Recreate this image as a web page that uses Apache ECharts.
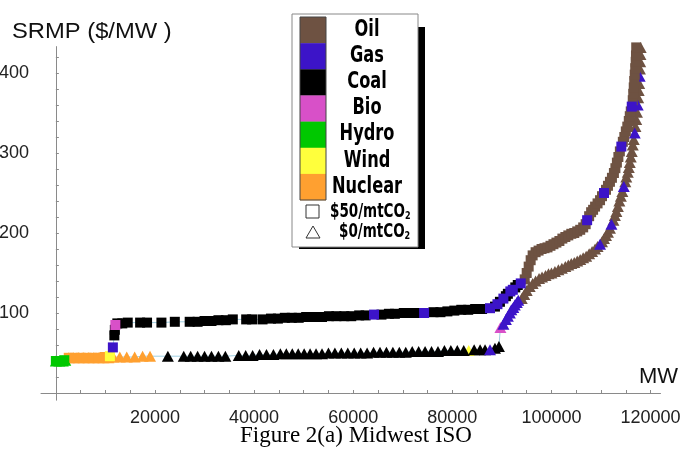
<!DOCTYPE html>
<html>
<head>
<meta charset="utf-8">
<script src="https://cdn.jsdelivr.net/npm/echarts@6/dist/echarts.min.js"></script>
<style>
html, body { margin: 0; padding: 0; background: #fff; }
#chart { width: 683px; height: 453px; }
</style>
</head>
<body>
<div id="chart"></div>
<script>
// Fuel types, in legend order, with their colours
const fuelNames = ['Oil', 'Gas', 'Coal', 'Bio', 'Hydro', 'Wind', 'Nuclear'];
const fuelColors = ['#6e5242', '#3c14c8', '#000000', '#d850c8', '#00c800', '#ffff3c', '#ffa030'];

// Axis ticks and labels
const xTickValues = [0, 5000, 10000, 15000, 20000, 25000, 30000, 35000, 40000, 45000, 50000, 55000, 60000,
  65000, 70000, 75000, 80000, 85000, 90000, 95000, 100000, 105000, 110000, 115000, 120000];
const xLabelValues = [20000, 40000, 60000, 80000, 100000, 120000];
const yTickValues = [0, 20, 40, 60, 80, 100, 120, 140, 160, 180, 200, 220, 240, 260, 280, 300, 320, 340, 360, 380, 400, 420];
const yLabelValues = [100, 200, 300, 400];

// Supply curve with a $50/mtCO2 carbon price: [cumulative MW, SRMP $/MW]
const sqHydro = [[0, 40], [900, 40], [1700, 41]];
const sqNuclear = [[2600, 44], [3800, 44], [5000, 44], [6200, 44], [7400, 44], [8600, 44], [9800, 45]];
const sqWind = [[10900, 46]];
const sqGas = [[11500, 57], [64200, 98], [74300, 100], [87600, 106], [89100, 111], [90300, 118], [91700, 127],
  [92200, 129], [93800, 137], [107200, 216], [110600, 250], [114100, 308], [116200, 358]];
const sqBio = [[12000, 85]];
const sqCoal = [[11800, 72], [11900, 79], [12400, 87], [13400, 87], [14500, 88], [17000, 88], [18400, 88],
  [21300, 88], [24000, 89], [27000, 89], [28600, 89], [30000, 90], [31400, 90], [32800, 91], [34300, 91],
  [35700, 92], [38400, 92], [39600, 92], [41700, 92], [43400, 93], [44800, 93], [46200, 94], [47600, 94],
  [49000, 94], [50500, 95], [52200, 95], [53700, 95], [55100, 96], [56600, 96], [58200, 96], [59600, 96],
  [61200, 97], [62500, 97], [65700, 98], [67200, 99], [68400, 99], [70200, 100], [71600, 100], [73000, 100],
  [76200, 101], [77600, 101], [79000, 102], [80400, 103], [81800, 104], [83200, 104], [84600, 105],
  [86000, 105], [88600, 108], [89600, 114], [90800, 121], [91200, 124], [92700, 132], [93200, 135]];
const sqOil = [[94600, 142], [95000, 150], [95400, 158], [95800, 166], [96200, 172], [96800, 176], [97400, 178],
  [98000, 180], [98600, 181], [99200, 182], [99800, 184], [100400, 186], [101000, 188], [101600, 190],
  [102200, 193], [102800, 195], [103400, 197], [104000, 199], [104600, 200], [105200, 202], [105800, 204],
  [106400, 207], [106900, 211], [107600, 221], [108000, 226], [108400, 229], [108800, 233], [109300, 237],
  [109800, 241], [110200, 246], [111000, 254], [111400, 259], [111800, 264], [112200, 269], [112600, 275],
  [112900, 281], [113200, 288], [113500, 295], [113800, 302], [114400, 314], [114700, 320], [115000, 327],
  [115300, 333], [115600, 340], [115800, 346], [116000, 352], [116400, 366], [116500, 374], [116600, 382],
  [116700, 390], [116800, 398], [116900, 406], [117000, 414], [117050, 422], [117100, 432]];

// Supply curve without a carbon price: [cumulative MW, SRMP $/MW]
const trHydro = [[0, 40], [700, 40], [1400, 40], [1900, 41]];
const trNuclear = [[2600, 44], [3600, 44], [4600, 44], [5600, 44], [6600, 44], [7600, 44], [8600, 44], [9600, 44],
  [10600, 44], [11600, 45], [12900, 45], [14300, 45], [15900, 45], [17500, 46], [19000, 46]];
const trWind = [[83300, 53]];
const trCoal = [[22600, 46], [25800, 46], [27200, 46], [28600, 46], [30000, 46], [31400, 46], [32800, 46],
  [34200, 46], [36900, 47], [38300, 47], [39700, 47], [41100, 48], [42500, 48], [43900, 48], [45300, 49],
  [46500, 49], [47700, 49], [48900, 49], [50100, 49], [51300, 49], [52500, 49], [53700, 49], [55000, 50],
  [56300, 50], [57600, 50], [58900, 50], [60200, 50], [61500, 50], [62800, 50], [64100, 51], [65400, 51],
  [66700, 51], [68000, 51], [69300, 51], [70600, 51], [71900, 52], [73200, 52], [74500, 52], [75800, 52],
  [77100, 52], [78400, 53], [79700, 53], [81000, 53], [82300, 53], [84400, 54], [85600, 54], [86600, 54],
  [88600, 56], [89400, 58]];
const trGas = [[87600, 54], [90300, 86], [90800, 92], [91200, 96], [91600, 100], [91900, 104], [92300, 107],
  [92600, 110], [93000, 113], [93300, 116], [109800, 186], [112100, 211], [114600, 258], [116800, 325],
  [117400, 360], [117800, 396]];
const trBio = [[89700, 82]];
const trOil = [[94000, 118], [94500, 123], [95000, 128], [95600, 133], [96200, 137], [96800, 140], [97500, 143],
  [98100, 145], [98800, 147], [99400, 149], [100000, 150], [100700, 152], [101400, 154], [102100, 156],
  [102800, 158], [103400, 160], [104000, 162], [104600, 163], [105200, 165], [105800, 167], [106400, 169],
  [107000, 171], [107600, 174], [108200, 177], [108800, 180], [109300, 183], [110200, 189], [110600, 193],
  [111000, 197], [111400, 201], [111800, 206], [112500, 216], [112800, 222], [113100, 227], [113400, 233],
  [113700, 240], [114000, 246], [114300, 252], [114900, 264], [115100, 270], [115400, 276], [115600, 282],
  [115800, 288], [116000, 295], [116200, 302], [116400, 310], [116600, 317], [116950, 333], [117100, 342],
  [117250, 351], [117500, 369], [117600, 378], [117700, 387], [117850, 405], [117900, 414], [117950, 423],
  [118000, 432]];

const carbonGroups = {
  Oil: sqOil, Gas: sqGas, Coal: sqCoal, Bio: sqBio, Hydro: sqHydro, Wind: sqWind, Nuclear: sqNuclear
};
const noCarbonGroups = {
  Oil: trOil, Gas: trGas, Coal: trCoal, Bio: trBio, Hydro: trHydro, Wind: trWind, Nuclear: trNuclear
};

// Drawing order within each curve (later ones sit on top)
const drawOrder = ['Nuclear', 'Hydro', 'Wind', 'Coal', 'Bio', 'Oil', 'Gas'];

function colorOf(name) { return fuelColors[fuelNames.indexOf(name)]; }

function curveLine(groups, z) {
  const pts = [];
  Object.keys(groups).forEach(k => groups[k].forEach(p => pts.push(p)));
  pts.sort((a, b) => a[0] - b[0]);
  return {
    type: 'line', data: pts, showSymbol: false, symbol: 'none', silent: true, z: z,
    lineStyle: { color: '#9fcfe2', width: 1 }
  };
}

function markerSeries(groups, symbol, size, z) {
  return drawOrder.map(name => ({
    type: 'scatter', name: name, data: groups[name], symbol: symbol, symbolSize: size,
    itemStyle: { color: colorOf(name), opacity: 1 }, silent: true, z: z
  }));
}

const series = [].concat(
  [curveLine(noCarbonGroups, 1)],
  markerSeries(noCarbonGroups, 'triangle', [12, 11], 2),
  [curveLine(carbonGroups, 3)],
  markerSeries(carbonGroups, 'rect', 10, 4)
);

// Legend box, drawn as graphics
const legendFont = "'DejaVu Sans Condensed', 'Liberation Sans Narrow', sans-serif";
const legend = [
  { type: 'rect', shape: { x: 299, y: 27, width: 126, height: 222 }, style: { fill: '#000' }, z: 10 },
  { type: 'rect', shape: { x: 292, y: 14, width: 126, height: 233 }, style: { fill: '#fff', stroke: '#888', lineWidth: 1 }, z: 11 }
];
fuelNames.forEach((name, i) => {
  legend.push({ type: 'rect', shape: { x: 300, y: 17 + i * 26.15, width: 26, height: 26.4 },
    style: { fill: fuelColors[i] }, z: 12 });
  legend.push({ type: 'text', x: 367, y: 30 + i * 26.1, z: 13, scaleX: 1.0, scaleY: 1.3,
    style: { text: name, font: 'bold 18px ' + legendFont, fill: '#000', align: 'center', verticalAlign: 'middle' } });
});
legend.push({ type: 'rect', shape: { x: 300, y: 17, width: 26, height: 183 }, style: { fill: 'none', stroke: '#444', lineWidth: 1 }, z: 13 });
legend.push({ type: 'rect', shape: { x: 306, y: 205, width: 13, height: 13 }, style: { fill: 'none', stroke: '#333', lineWidth: 1 }, z: 13 });
legend.push({ type: 'polygon', shape: { points: [[313, 226], [306, 238], [320, 238]] }, style: { fill: 'none', stroke: '#333', lineWidth: 1 }, z: 13 });
legend.push({ type: 'text', x: 330, y: 212, z: 13, scaleY: 1.25,
  style: { text: '{n|$50/mtCO}{s|2}', align: 'left', verticalAlign: 'middle',
    rich: { n: { font: 'bold 15px ' + legendFont, fill: '#000' }, s: { font: 'bold 9px ' + legendFont, fill: '#000', padding: [7, 0, 0, 0] } } } });
legend.push({ type: 'text', x: 339, y: 232, z: 13, scaleY: 1.25,
  style: { text: '{n|$0/mtCO}{s|2}', align: 'left', verticalAlign: 'middle',
    rich: { n: { font: 'bold 15px ' + legendFont, fill: '#000' }, s: { font: 'bold 9px ' + legendFont, fill: '#000', padding: [7, 0, 0, 0] } } } });

const titles = [
  { type: 'text', x: 12, y: 32, scaleX: 1.08, style: { text: 'SRMP ($/MW )', font: '22px "Liberation Sans", Arial, sans-serif', fill: '#111', verticalAlign: 'middle' } },
  { type: 'text', x: 639, y: 377, style: { text: 'MW', font: '22px "Liberation Sans", Arial, sans-serif', fill: '#111', verticalAlign: 'middle' } },
  { type: 'text', x: 356, y: 436, style: { text: 'Figure 2(a) Midwest ISO', font: '23px "Liberation Serif", "Times New Roman", serif', fill: '#000', align: 'center', verticalAlign: 'middle' } }
];

const axisColor = '#8a8a8a';
const option = {
  animation: false,
  backgroundColor: '#fff',
  grid: { left: 41, right: 22.5, top: 46.6, bottom: 52.8, containLabel: false, outerBoundsMode: 'none' },
  xAxis: {
    type: 'value', min: -3000, max: 122000,
    splitLine: { show: false },
    axisLine: { show: true, onZero: true, lineStyle: { color: axisColor, width: 1 } },
    axisTick: { show: true, inside: true, length: 3, customValues: xTickValues, lineStyle: { color: axisColor } },
    axisLabel: { show: true, customValues: xLabelValues, margin: 9, color: '#222', fontSize: 18,
      fontFamily: '"Liberation Sans", Arial, sans-serif', formatter: v => String(v), hideOverlap: false }
  },
  yAxis: {
    type: 'value', min: -9, max: 433,
    splitLine: { show: false },
    axisLine: { show: true, onZero: true, lineStyle: { color: axisColor, width: 1 } },
    axisTick: { show: true, inside: true, length: 3, customValues: yTickValues, lineStyle: { color: axisColor } },
    axisLabel: { show: true, customValues: yLabelValues, margin: 12, color: '#222', fontSize: 18,
      fontFamily: '"Liberation Sans", Arial, sans-serif', formatter: v => String(v) }
  },
  series: series,
  graphic: titles.concat(legend)
};

const chart = echarts.init(document.getElementById('chart'));
chart.setOption(option);
</script>
</body>
</html>
